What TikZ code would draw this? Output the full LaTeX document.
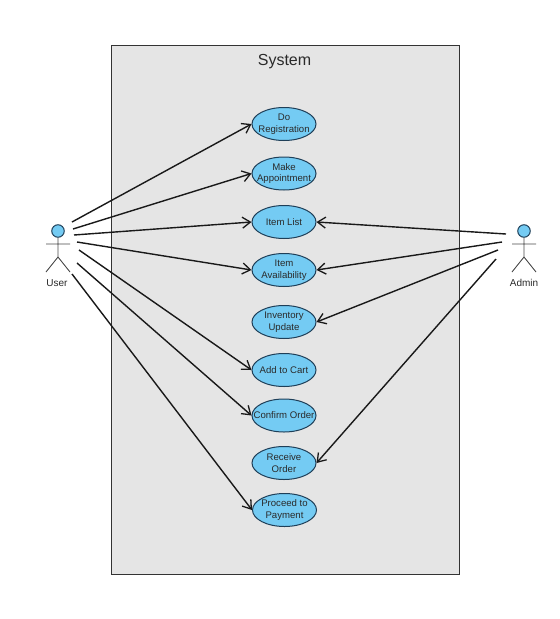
\documentclass[tikz,border=0pt]{standalone}
\usepackage{fontspec}
\setmainfont{Liberation Sans}
\usetikzlibrary{shapes.geometric,arrows.meta}
\definecolor{uc}{HTML}{74CBF3}
\definecolor{ucline}{HTML}{1F3F58}
\definecolor{sysfill}{HTML}{E5E5E5}
\definecolor{txt}{HTML}{2A2A2A}
\tikzset{
  usecase/.style={ellipse,draw=ucline,fill=uc,line width=1pt,minimum width=64pt,minimum height=33pt,inner sep=-30pt,
    align=center,font=\fontsize{9.6}{11.5}\selectfont,text=txt},
  sysbox/.style={draw=black!80,fill=sysfill,line width=0.9pt},
  assoc/.style={draw=black!90,line width=1.4pt,-{Straight Barb[length=8pt,width=11pt,line width=1.3pt]}},
  actorline/.style={draw=black!70,line width=0.9pt},
  actorhead/.style={circle,draw=ucline,fill=uc,line width=1pt,minimum size=12.5pt,inner sep=0pt},
  actorlabel/.style={font=\fontsize{10}{12}\selectfont,text=txt},
}
\begin{document}
\begin{tikzpicture}[x=1pt,y=-1pt]
\useasboundingbox (0,0) rectangle (560,619);
\fill[white] (0,0) rectangle (560,619);
\node[sysbox,minimum width=348pt,minimum height=529pt,inner sep=0pt] (sys) at (285,309.5) {};
\node[font=\fontsize{16}{20}\selectfont,text=txt] (title) at (284.5,61.5) {System};
\node[usecase] (n1) at (284,124) {Do\\Registration};
\node[usecase] (n2) at (284,173.5) {Make\\Appointment};
\node[usecase] (n3) at (284,222) {Item List};
\node[usecase] (n4) at (284,270) {Item\\Availability};
\node[usecase] (n5) at (284,322) {Inventory\\Update};
\node[usecase] (n6) at (284,370) {Add to Cart};
\node[usecase] (n7) at (284,415.5) {Confirm Order};
\node[usecase] (n8) at (284,463) {Receive\\Order};
\node[usecase] (n9) at (284.5,510) {Proceed to\\Payment};
% User
\node[actorhead] (uh) at (58,231) {};
\coordinate (ub) at (58,257);
\coordinate (ual) at (46,244);
\coordinate (uar) at (70,244);
\coordinate (ull) at (46,272);
\coordinate (ulr) at (70,272);
\draw[actorline] (uh) -- (ub) (ual) -- (uar) (ull) -- (ub) -- (ulr);
\node[actorlabel] (ul) at (57,283) {User};
% Admin
\node[actorhead] (ah) at (524,231) {};
\coordinate (ab) at (524,257);
\coordinate (aal) at (512,244);
\coordinate (aar) at (536,244);
\coordinate (all) at (512,272);
\coordinate (alr) at (536,272);
\draw[actorline] (ah) -- (ab) (aal) -- (aar) (all) -- (ab) -- (alr);
\node[actorlabel] (al) at (524,283) {Admin};
% connector ends
\coordinate (u1) at (72,222);
\coordinate (u2) at (73,229);
\coordinate (u3) at (74,235);
\coordinate (u4) at (77,242);
\coordinate (u5) at (79,250);
\coordinate (u6) at (77,263);
\coordinate (u7) at (72,274);
\coordinate (a1) at (506,234);
\coordinate (a2) at (502,242);
\coordinate (a3) at (498,250);
\coordinate (a4) at (496,259);
\draw[assoc] (u1) -- (n1.west);
\draw[assoc] (u2) -- (n2.west);
\draw[assoc] (u3) -- (n3.west);
\draw[assoc] (u4) -- (n4.west);
\draw[assoc] (u5) -- (n6.west);
\draw[assoc] (u6) -- (n7.west);
\draw[assoc] (u7) -- (n9.west);
\draw[assoc] (a1) -- (n3.east);
\draw[assoc] (a2) -- (n4.east);
\draw[assoc] (a3) -- (n5.east);
\draw[assoc] (a4) -- (n8.east);
\end{tikzpicture}
\end{document}
